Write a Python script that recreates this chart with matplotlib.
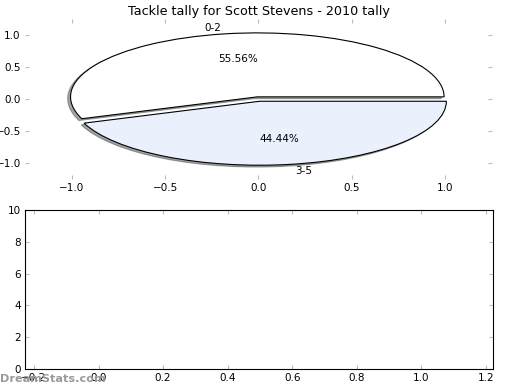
import matplotlib.pyplot as plt
import numpy as np

labels = ['0-2', '3-5']
tallies = [5, 4]
wedge_colors = ['#ffffff', '#eaf0fc']

fig = plt.figure(figsize=(5.2, 3.9), dpi=100)
ax1 = fig.add_axes([0.048, 0.541, 0.898, 0.41])
ax2 = fig.add_axes([0.048, 0.054, 0.9, 0.407])

wedges, texts, autotexts = ax1.pie(tallies, labels=labels, colors=wedge_colors,
                                   explode=(0.035, 0.035), autopct='%1.2f%%',
                                   shadow={'ox': -0.011, 'oy': -0.02},
                                   frame=True,
                                   wedgeprops={'edgecolor': 'black', 'linewidth': 0.8},
                                   textprops={'fontsize': 7.5})
ax1.set_aspect('auto')
ax1.set_xlim(-1.25, 1.25)
ax1.set_ylim(-1.25, 1.25)
ax1.set_xticks([-1.0, -0.5, 0.0, 0.5, 1.0])
ax1.set_yticks([-1.0, -0.5, 0.0, 0.5, 1.0])
for s in ax1.spines.values():
    s.set_visible(False)
ax1.set_title('Tackle tally for Scott Stevens - 2010 tally', fontsize=9.2, pad=3)

ax2.set_xlim(-0.228, 1.222)
ax2.set_ylim(0, 10)
ax2.set_xticks(np.arange(-0.2, 1.21, 0.2))
ax2.set_yticks(range(0, 11, 2))

for ax in (ax1, ax2):
    ax.tick_params(direction='in', length=3, color='#bbbbbb', labelsize=7.5,
                   top=True, right=True, pad=3)

fig.text(0.0, 0.028, 'DreamStats.com', color='#999999', fontsize=8.1,
         fontweight='bold', va='center', ha='left')

plt.savefig('out.png', dpi=100)
